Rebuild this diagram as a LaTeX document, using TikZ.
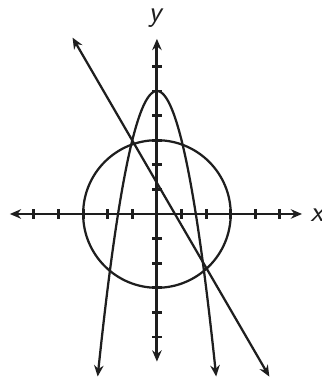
\documentclass[tikz,border=0pt]{standalone}
\usepackage{amsmath, amssymb}
\usepackage{tikz}
\usetikzlibrary{arrows.meta}
\definecolor{ink}{RGB}{30, 30, 30}

\begin{document}
\begin{tikzpicture}[x=0.5cm, y=0.5cm]
      \useasboundingbox (-6.38,-6.79) rectangle (6.71,8.70);
      \tikzset{
        axis/.style={ink, line width=1.7pt, {Stealth[length=6.5pt,width=5.5pt]}-{Stealth[length=6.5pt,width=5.5pt]}},
        graph/.style={ink, line width=1.3pt},
        tick/.style={ink, line width=1.7pt},
        axislabel/.style={ink, font=\fontsize{17}{20}\selectfont\sffamily\itshape}
      }
      % Axes
      \coordinate (xl) at (-5.98,0);
      \coordinate (xr) at (5.90,0);
      \coordinate (yb) at (0,-6.0);
      \coordinate (yt) at (0,7.12);
      \draw[axis] (xl) -- (xr);
      \draw[axis] (yb) -- (yt);
      % Tick marks
      \foreach \x in {-5,...,-1,1,2,...,5}{
        \draw[tick] (\x,-0.19) -- (\x,0.19);
      }
      \foreach \y in {-5,...,-1,1,2,...,6}{
        \draw[tick] (-0.19,\y) -- (0.19,\y);
      }
      % Axis labels
      \node[axislabel, anchor=west] (xlabel) at (6.0,-0.05) {x};
      \node[axislabel] (ylabel) at (-0.08,7.95) {y};
      % Circle
      \draw[graph] (0,0) circle (3);
      % Parabola
      \draw[graph, -{Stealth[length=6.5pt,width=5.5pt]}] plot[domain=0:-2.41, samples=60, smooth] (\x,{5-2*\x*\x});
      \draw[graph, -{Stealth[length=6.5pt,width=5.5pt]}] plot[domain=0:2.41, samples=60, smooth] (\x,{5-2*\x*\x});
      % Line
      \coordinate (lt) at (-3.43,7.17);
      \coordinate (lb) at (4.57,-6.61);
      \draw[graph, {Stealth[length=6.5pt,width=5.5pt]}-{Stealth[length=6.5pt,width=5.5pt]}] (lt) -- (lb);
    \end{tikzpicture}
\end{document}
